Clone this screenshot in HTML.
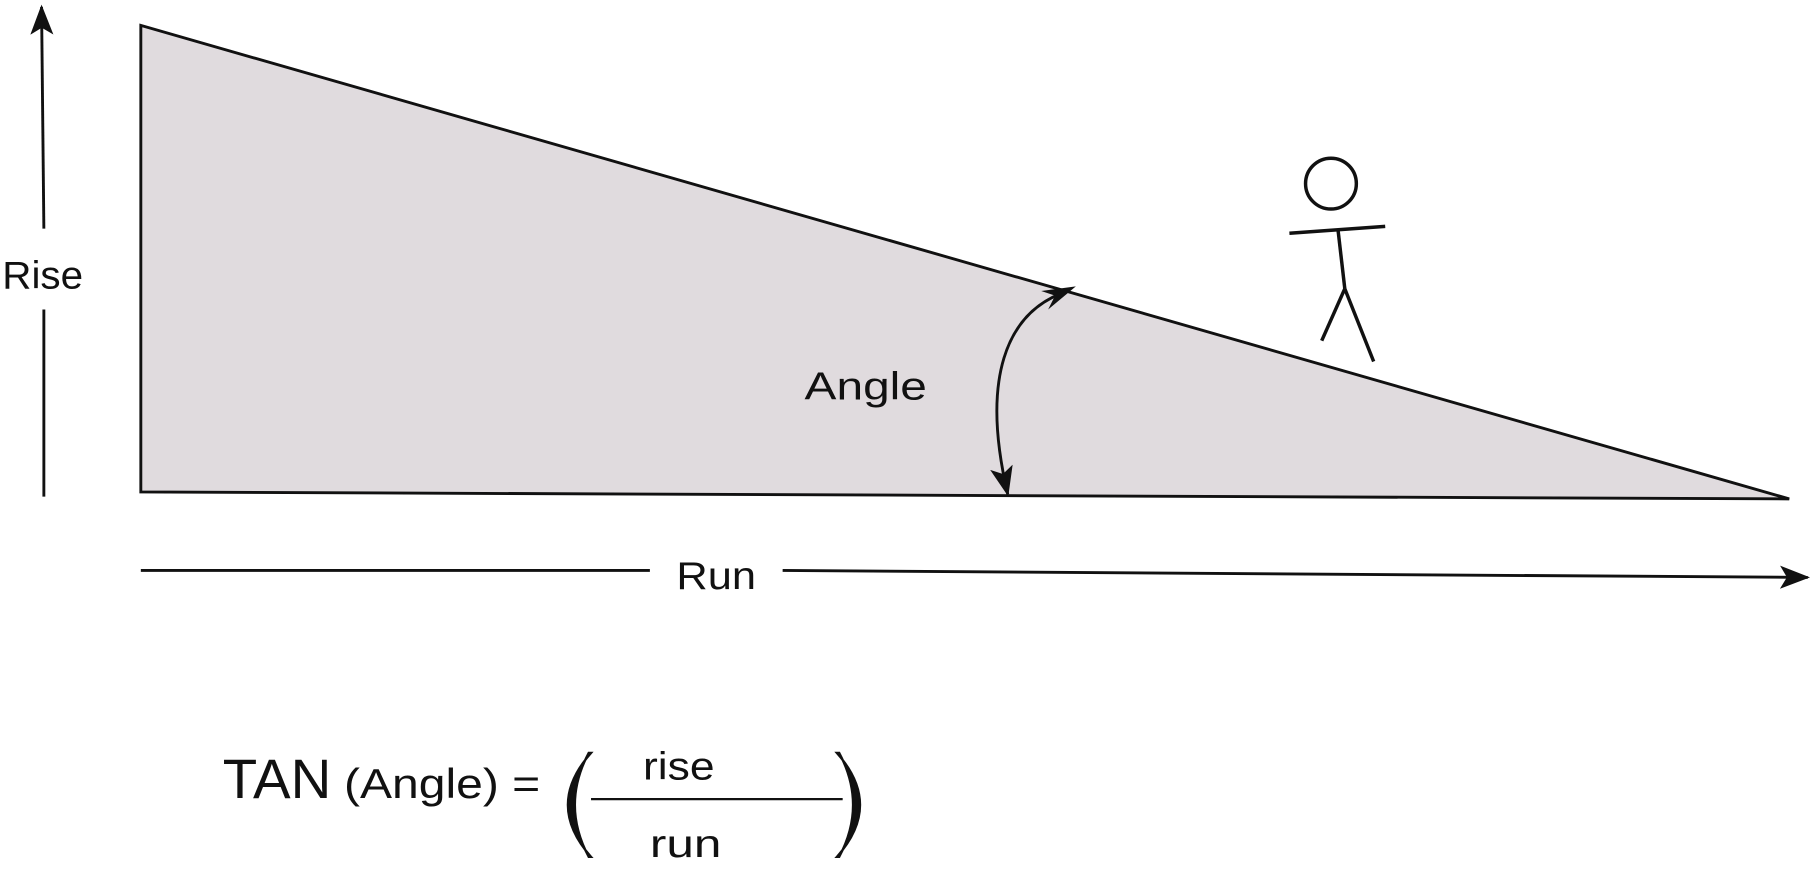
<!DOCTYPE html>
<html><head><meta charset="utf-8"><style>
html,body{margin:0;padding:0;background:#fff;}
svg{display:block;}
text{font-family:"Liberation Sans","DejaVu Sans",sans-serif;fill:#111;}
</style></head><body>
<svg width="1810" height="895" viewBox="0 0 1568 775" preserveAspectRatio="none" xmlns="http://www.w3.org/2000/svg">
<defs>
<marker id="ah2" markerWidth="26" markerHeight="20" refX="24" refY="10" orient="auto" markerUnits="userSpaceOnUse">
<path d="M0,0 L26,10 L0,20 L6,10 Z" fill="#111"/>
</marker>
</defs>
<polygon points="122,22 122,426 1550,432" fill="#e0dbde" stroke="#111" stroke-width="2.5"/>
<!-- Rise -->
<line x1="38" y1="430" x2="38" y2="268" stroke="#111" stroke-width="2.5"/>
<line x1="38" y1="198" x2="36" y2="6" stroke="#111" stroke-width="2.5" marker-end="url(#ah2)"/>
<text x="2" y="250" font-size="34" textLength="70" lengthAdjust="spacingAndGlyphs">Rise</text>
<!-- Run -->
<line x1="122" y1="494" x2="563" y2="494" stroke="#111" stroke-width="2.5"/>
<line x1="678" y1="494" x2="1566" y2="500" stroke="#111" stroke-width="2.5" marker-end="url(#ah2)"/>
<text x="586" y="510" font-size="34" textLength="69" lengthAdjust="spacingAndGlyphs">Run</text>
<!-- Angle arc -->
<path d="M925,252 C870,270 850,330 873,428" fill="none" stroke="#111" stroke-width="2.5" marker-end="url(#ah2)"/>
<path d="M932,248 L908,268 L914,256 L902,252 Z" fill="#111"/>
<text x="697" y="346" font-size="34" textLength="106" lengthAdjust="spacingAndGlyphs">Angle</text>
<!-- stick figure -->
<circle cx="1153" cy="159" r="22" fill="none" stroke="#111" stroke-width="3"/>
<line x1="1159" y1="198" x2="1165" y2="250" stroke="#111" stroke-width="3"/>
<line x1="1117" y1="202" x2="1200" y2="196" stroke="#111" stroke-width="3"/>
<line x1="1165" y1="250" x2="1145" y2="295" stroke="#111" stroke-width="3"/>
<line x1="1165" y1="250" x2="1190" y2="313" stroke="#111" stroke-width="3"/>
<!-- formula -->
<text x="193" y="691" font-size="48" textLength="94" lengthAdjust="spacingAndGlyphs">TAN</text>
<text x="298" y="691" font-size="36" textLength="170" lengthAdjust="spacingAndGlyphs">(Angle) =</text>
<path d="M512,652 Q472,697 512,742 L510,742 Q486,697 510,652 Z" fill="#111" stroke="#111" stroke-width="2"/>
<path d="M725,652 Q765,697 725,742 L727,742 Q751,697 727,652 Z" fill="#111" stroke="#111" stroke-width="2"/>
<text x="588" y="675" font-size="34" text-anchor="middle" textLength="62" lengthAdjust="spacingAndGlyphs">rise</text>
<line x1="512" y1="692" x2="730" y2="692" stroke="#111" stroke-width="2"/>
<text x="594" y="742" font-size="34" text-anchor="middle" textLength="62" lengthAdjust="spacingAndGlyphs">run</text>
</svg>
</body></html>
